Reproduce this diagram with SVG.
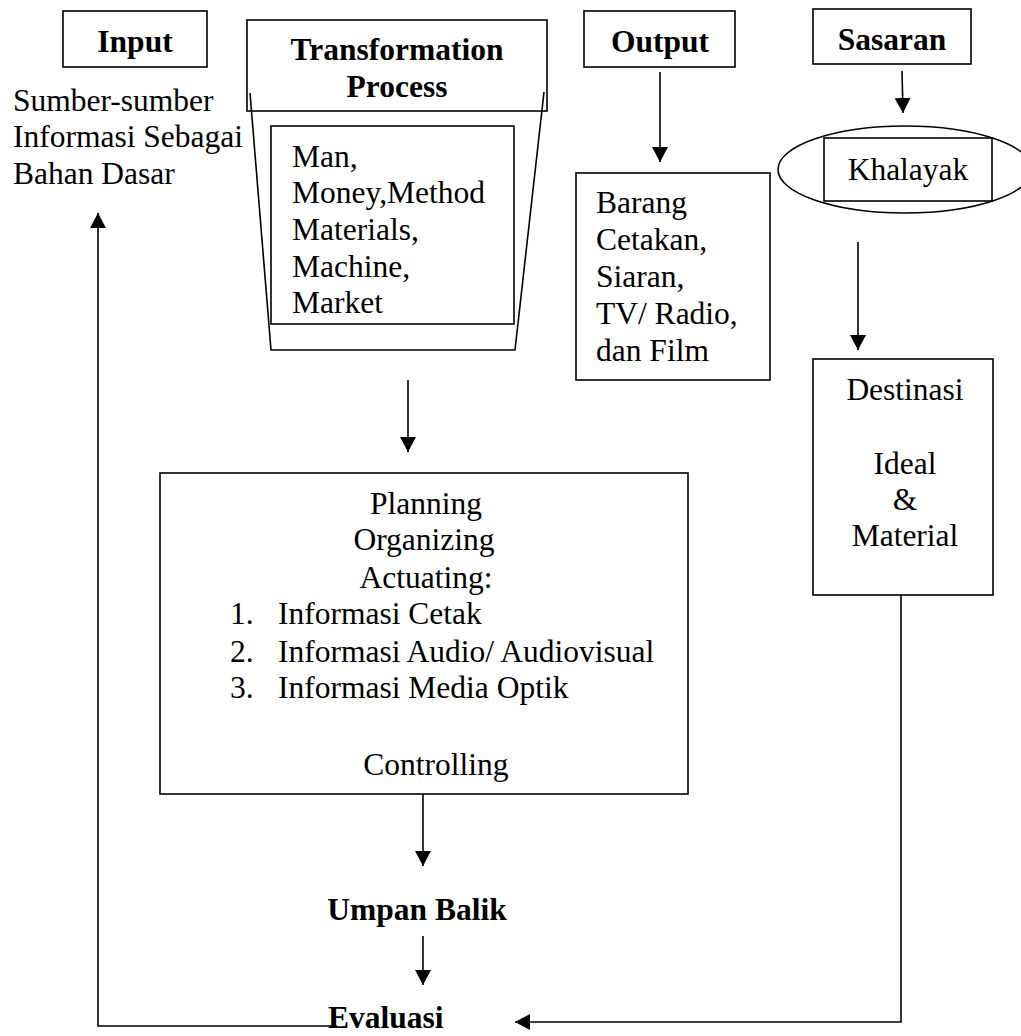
<svg xmlns="http://www.w3.org/2000/svg" width="1021" height="1036" viewBox="0 0 1021 1036">
<style>
  .box{fill:none;stroke:#000;stroke-width:1.6}
  .ln{fill:none;stroke:#000;stroke-width:1.6}
  .t{font-family:"Liberation Serif","Times New Roman",serif;font-size:31.5px;fill:#000}
  .b{font-weight:bold}
  .c{text-anchor:middle}
</style>
<defs>
  <marker id="ah" markerUnits="userSpaceOnUse" markerWidth="16" markerHeight="18" refX="15" refY="8" orient="auto" viewBox="0 0 16 16">
    <path d="M0,0 L15,8 L0,16 z" fill="#000"/>
  </marker>
</defs>
<rect width="1021" height="1036" fill="#fff"/>

<g id="input">
  <rect class="box" x="63" y="11" width="144" height="56"/>
  <text class="t b c" x="135" y="52">Input</text>
</g>
<g id="input-desc">
  <text class="t" x="13" y="111">Sumber-sumber</text>
  <text class="t" x="13" y="147">Informasi Sebagai</text>
  <text class="t" x="13" y="184">Bahan Dasar</text>
</g>

<g id="transformation">
  <rect class="box" x="247" y="20" width="300" height="91"/>
  <text class="t b c" x="397" y="60">Transformation</text>
  <text class="t b c" x="397" y="97">Process</text>
  <path class="ln" d="M250,93 L271,350 L515,350 L544,92"/>
</g>
<g id="resources">
  <rect class="box" x="271" y="126" width="243" height="198"/>
  <text class="t" x="292" y="167">Man,</text>
  <text class="t" x="292" y="203">Money,Method</text>
  <text class="t" x="292" y="240">Materials,</text>
  <text class="t" x="292" y="277">Machine,</text>
  <text class="t" x="292" y="313">Market</text>
</g>

<g id="output">
  <rect class="box" x="584" y="11" width="151" height="56"/>
  <text class="t b c" x="660" y="52">Output</text>
</g>
<g id="output-items">
  <rect class="box" x="576" y="173" width="194" height="207"/>
  <text class="t" x="596" y="213">Barang</text>
  <text class="t" x="596" y="250">Cetakan,</text>
  <text class="t" x="596" y="287">Siaran,</text>
  <text class="t" x="596" y="324">TV/ Radio,</text>
  <text class="t" x="596" y="361">dan Film</text>
</g>

<g id="sasaran">
  <rect class="box" x="813" y="9" width="158" height="55"/>
  <text class="t b c" x="892" y="50">Sasaran</text>
</g>
<g id="khalayak">
  <ellipse class="box" cx="905" cy="169.5" rx="127" ry="43.5"/>
  <rect class="box" x="824" y="138" width="168" height="63"/>
  <text class="t c" x="908" y="180">Khalayak</text>
</g>
<g id="destinasi">
  <rect class="box" x="813" y="359" width="180" height="236"/>
  <text class="t c" x="905" y="400">Destinasi</text>
  <text class="t c" x="905" y="474">Ideal</text>
  <text class="t c" x="905" y="510">&amp;</text>
  <text class="t c" x="905" y="546">Material</text>
</g>

<g id="management">
  <rect class="box" x="160" y="473" width="528" height="321"/>
  <text class="t c" x="426" y="514">Planning</text>
  <text class="t c" x="424" y="550">Organizing</text>
  <text class="t c" x="426" y="588">Actuating:</text>
  <text class="t" x="230" y="624">1.</text>
  <text class="t" x="278" y="624">Informasi Cetak</text>
  <text class="t" x="230" y="662">2.</text>
  <text class="t" x="278" y="662">Informasi Audio/ Audiovisual</text>
  <text class="t" x="230" y="698">3.</text>
  <text class="t" x="278" y="698">Informasi Media Optik</text>
  <text class="t c" x="436" y="775">Controlling</text>
</g>

<g id="umpan-balik">
  <text class="t b c" x="417" y="920">Umpan Balik</text>
</g>
<g id="evaluasi">
  <text class="t b" x="328" y="1028">Evaluasi</text>
</g>

<g id="connectors">
  <path class="ln" d="M660,72 V162" marker-end="url(#ah)"/>
  <path class="ln" d="M902,71 L903,113" marker-end="url(#ah)"/>
  <path class="ln" d="M858,242 V350" marker-end="url(#ah)"/>
  <path class="ln" d="M408,380 V452" marker-end="url(#ah)"/>
  <path class="ln" d="M423,794 V866" marker-end="url(#ah)"/>
  <path class="ln" d="M423,936 V985" marker-end="url(#ah)"/>
  <path class="ln" d="M901,595 V1022 H515" marker-end="url(#ah)"/>
  <path class="ln" d="M337,1026 H98 V213" marker-end="url(#ah)"/>
</g>
</svg>
